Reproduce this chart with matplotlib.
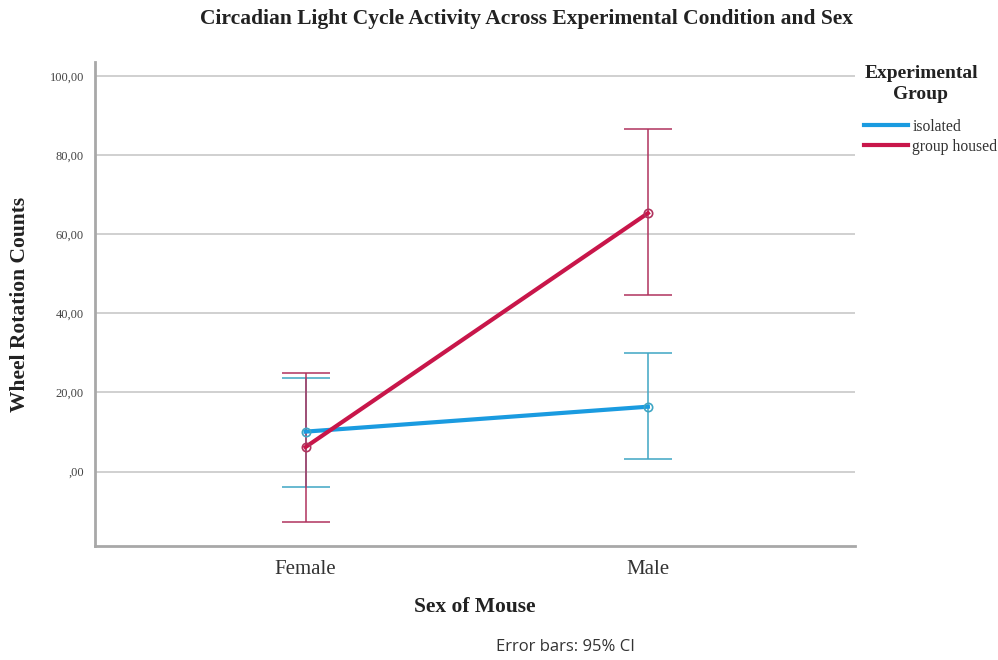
# -*- coding: utf-8 -*-
from matplotlib import pyplot as plt
from matplotlib.lines import Line2D
import numpy as np

sexes = ['Female', 'Male']
groups = ['isolated', 'group housed']

# mean wheel rotation counts with 95% CI bounds
isolated_mean = np.array([10.1, 16.4])
isolated_lo = np.array([-3.8, 3.1])
isolated_hi = np.array([23.6, 29.9])

housed_mean = np.array([6.2, 65.3])
housed_lo = np.array([-12.8, 44.7])
housed_hi = np.array([25.0, 86.5])

yticks = [0, 20, 40, 60, 80, 100]
ytick_labels = [',00', '20,00', '40,00', '60,00', '80,00', '100,00']

blue = '#1a9be0'
red = '#c8164a'
blue_err = '#3fa6c4'
red_err = '#b0335e'

plt.rcParams['font.family'] = ['Liberation Serif', 'DejaVu Serif']

fig = plt.figure(figsize=(9.98, 6.6), dpi=100)
ax = fig.add_axes([95 / 998, 114 / 660, 760 / 998, 484 / 660])

x = np.arange(len(sexes))

for mean, lo, hi, col, ecol in [
        (isolated_mean, isolated_lo, isolated_hi, blue, blue_err),
        (housed_mean, housed_lo, housed_hi, red, red_err)]:
    ax.errorbar(x, mean, yerr=[mean - lo, hi - mean], fmt='none',
                ecolor=ecol, elinewidth=1.1, capsize=17, capthick=1.1, zorder=3)
    ax.plot(x, mean, color=col, linewidth=3, zorder=4)
    ax.plot(x, mean, 'o', markersize=6, markerfacecolor='none',
            markeredgecolor=ecol, markeredgewidth=1.2, zorder=5)

ax.set_xlim(-0.615, 1.605)
ax.set_ylim(-18.8, 103.5)
ax.set_xticks(x)
ax.set_xticklabels(sexes, fontsize=15, color='#333333')
ax.set_yticks(yticks)
ax.set_yticklabels(ytick_labels, fontsize=9, color='#444444')
ax.tick_params(axis='both', length=0, pad=8)
ax.tick_params(axis='x', pad=10)

ax.grid(axis='y', color='#c8c8c8', linewidth=1.2)
ax.set_axisbelow(True)
for s in ['top', 'right']:
    ax.spines[s].set_visible(False)
for s in ['left', 'bottom']:
    ax.spines[s].set_color('#a8a8a8')
    ax.spines[s].set_linewidth(2)

ax.set_ylabel('Wheel Rotation Counts', fontsize=15.5, fontweight='bold',
              color='#222222', labelpad=14)
ax.set_xlabel('Sex of Mouse', fontsize=15.5, fontweight='bold',
              color='#222222', labelpad=13)

fig.text(526 / 998, 1 - 19 / 660,
         'Circadian Light Cycle Activity Across Experimental Condition and Sex',
         ha='center', va='center', fontsize=15.5, fontweight='bold', color='#222222')

fig.text(921 / 998, 1 - 84 / 660, 'Experimental\nGroup', ha='center', va='center',
         fontsize=14, fontweight='bold', color='#222222', linespacing=1.25)

handles = [Line2D([], [], color=blue, linewidth=3),
           Line2D([], [], color=red, linewidth=3)]
fig.legend(handles, groups, loc='upper left', bbox_to_anchor=(856 / 998, 1 - 111 / 660),
           frameon=False, fontsize=11.3, handlelength=2.8, handletextpad=0.3,
           labelspacing=0.25, borderpad=0, labelcolor='#333333')

fig.text(565 / 998, 1 - 647 / 660, 'Error bars: 95% CI', ha='center', va='center',
         fontsize=12, color='#333333', family=['Open Sans', 'DejaVu Sans'])

fig.savefig('out.png', dpi=100)
